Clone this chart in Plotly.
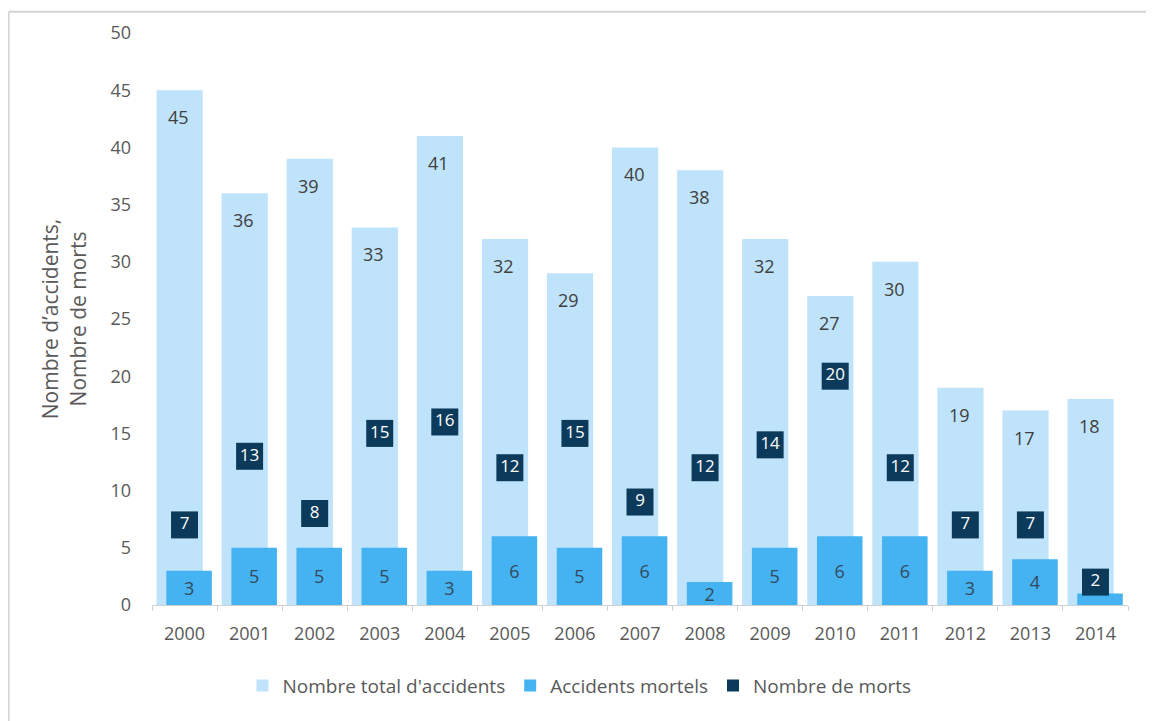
import plotly.graph_objects as go

years = [str(y) for y in range(2000, 2015)]
total_accidents = [45, 36, 39, 33, 41, 32, 29, 40, 38, 32, 27, 30, 19, 17, 18]
fatal_accidents = [3, 5, 5, 5, 3, 6, 5, 6, 2, 5, 6, 6, 3, 4, 1]
deaths = [7, 13, 8, 15, 16, 12, 15, 9, 12, 14, 20, 12, 7, 7, 2]

C_LIGHT = "#bfe3fa"
C_MED = "#45b3f1"
C_DARK = "#0c3a5b"
FONT = "Open Sans"
GRAY = "#595959"

# labels are omitted on bars too short to hold them
fatal_labels = [str(v) if v >= 2 else "" for v in fatal_accidents]

fig = go.Figure()
fig.add_trace(go.Bar(
    x=years, y=total_accidents, name="Nombre total d'accidents",
    marker=dict(color=C_LIGHT, line=dict(width=0)),
    offset=-0.43, width=0.71,
))
fig.add_trace(go.Bar(
    x=years, y=fatal_accidents, name="Accidents mortels",
    marker=dict(color=C_MED, line=dict(width=0)),
    offset=-0.28, width=0.70,
    text=fatal_labels, textposition="inside", insidetextanchor="middle",
    constraintext="none", cliponaxis=False,
    textfont=dict(color="#34495e", size=18, family=FONT), textangle=0,
))
fig.add_trace(go.Scatter(
    x=years, y=deaths, name="Nombre de morts", mode="markers+text",
    marker=dict(symbol="square", size=27, color=C_DARK),
    text=deaths, textposition="middle center",
    textfont=dict(color="white", size=17, family=FONT),
))

for i, v in enumerate(total_accidents):
    fig.add_annotation(x=i, y=v, text=str(v), showarrow=False,
                       xshift=-6, yshift=-27, yanchor="middle",
                       font=dict(size=18, color="#404040", family=FONT))

# image frame
fig.add_shape(type="line", xref="paper", yref="paper", x0=-0.147, x1=-0.147, y0=-0.21, y1=1.037,
              line=dict(color="#d4d4d4", width=2))
fig.add_shape(type="line", xref="paper", yref="paper", x0=-0.147, x1=1.024, y0=1.037, y1=1.037,
              line=dict(color="#d4d4d4", width=2))

fig.update_layout(
    width=1146, height=713,
    autosize=False,
    margin=dict(l=144, r=26, t=22, b=116),
    barmode="overlay",
    plot_bgcolor="white", paper_bgcolor="white",
    font=dict(family=FONT, size=18, color=GRAY),
    showlegend=True,
    legend=dict(orientation="h", x=0.438, xanchor="center",
                y=-0.141, yanchor="middle", font=dict(size=19, color=GRAY),
                itemsizing="constant", traceorder="normal"),
    xaxis=dict(type="category", range=[-0.5, len(years) - 0.5], tickson="boundaries",
               ticks="outside", ticklen=5,
               tickcolor="#d0d0d0", showline=True, linecolor="#d0d0d0", linewidth=1,
               showgrid=False, tickfont=dict(size=18, color=GRAY), ticklabelstandoff=12),
    yaxis=dict(range=[0, 50], dtick=5, showgrid=False, zeroline=False, showline=False,
               ticks="", ticklabelstandoff=20,
               tickfont=dict(size=18, color=GRAY),
               title=dict(text="Nombre d\u2019accidents,<br>Nombre de morts",
                          font=dict(size=21, color=GRAY), standoff=18)),
)

fig.write_html("out.html")
